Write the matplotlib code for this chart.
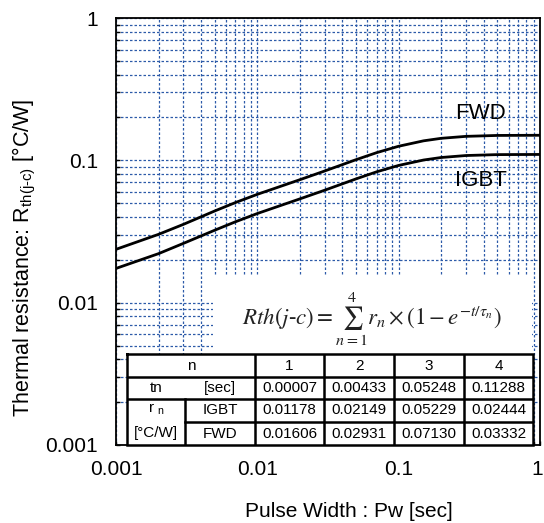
import numpy as np
import matplotlib
matplotlib.use("Agg")
import matplotlib.pyplot as plt
import matplotlib.transforms as mtransforms
from matplotlib.patches import Rectangle

plt.rcParams['font.family'] = ['Liberation Sans', 'DejaVu Sans']
plt.rcParams['mathtext.fontset'] = 'custom'
plt.rcParams['mathtext.rm'] = 'Liberation Sans'
plt.rcParams['mathtext.it'] = 'Liberation Sans:italic'

# Transient thermal impedance
pulse_width = [0.001, 0.002, 0.003, 0.005, 0.007, 0.01, 0.02, 0.03, 0.05,
               0.07, 0.1, 0.15, 0.2, 0.3, 0.5, 1.0]
rth_igbt = [0.0174, 0.0221, 0.0261, 0.0323, 0.0370, 0.0423, 0.0536, 0.0617,
            0.0741, 0.0831, 0.0921, 0.1005, 0.1047, 0.1081, 0.1097, 0.1100]
rth_fwd = [0.0237, 0.0302, 0.0355, 0.0441, 0.0505, 0.0577, 0.0731, 0.0842,
           0.1011, 0.1133, 0.1256, 0.1371, 0.1428, 0.1474, 0.1496, 0.1500]

# table contents
n_labels = ["1", "2", "3", "4"]
tau_n = ["0.00007", "0.00433", "0.05248", "0.11288"]
r_igbt = ["0.01178", "0.02149", "0.05229", "0.02444"]
r_fwd = ["0.01606", "0.02931", "0.07130", "0.03332"]

W, H = 544, 523
fig = plt.figure(figsize=(W / 100, H / 100), dpi=100)
ax = fig.add_axes([116 / W, 1 - 445 / H, 424 / W, 427 / H])

ax.set_xscale("log")
ax.set_yscale("log")
ax.set_xlim(0.001, 1)
ax.set_ylim(0.001, 1)
ax.set_axisbelow(True)
ax.grid(True, which="both", color="#2c5aa8", lw=0.9, ls=(0, (2, 1.6)))

ax.plot(pulse_width, rth_fwd, color="black", lw=2.0, zorder=3)
ax.plot(pulse_width, rth_igbt, color="black", lw=2.0, zorder=3)

ax.text(0.25, 0.215, "FWD", fontsize=16, va="center", ha="left")
ax.text(0.25, 0.0716, "IGBT", fontsize=16, va="center", ha="left")

ax.set_xticks([0.001, 0.01, 0.1, 1])
ax.xaxis.set_major_formatter(plt.FuncFormatter(lambda v, p: f"{v:g}"))
ax.yaxis.set_major_formatter(plt.FuncFormatter(lambda v, p: f"{v:g}"))
ax.xaxis.set_minor_formatter(plt.NullFormatter())
ax.yaxis.set_minor_formatter(plt.NullFormatter())
ax.tick_params(which="both", direction="in", length=3, width=1, labelsize=15)
ax.tick_params(axis="x", pad=11)
ax.tick_params(axis="y", pad=13)
for s in ax.spines.values():
    s.set_linewidth(1.3)

# nudge the last x tick label so it stays inside the figure
last = ax.get_xticklabels()[-1]
last.set_transform(last.get_transform() +
                   mtransforms.ScaledTranslation(-0.03, 0, fig.dpi_scale_trans))

ax.set_xlabel("Pulse Width : Pw [sec]", fontsize=15)
ax.xaxis.set_label_coords(0.55, -0.133)
ax.set_ylabel(r"Thermal resistance: R$_{\rm th(j\text{-}c)}$ [°C/W]",
              fontsize=15.5)
ax.yaxis.set_label_coords(-0.185, 0.438)

# white box behind formula
ax.add_patch(Rectangle((0.229, 0.21), 0.752, 0.186, transform=ax.transAxes,
                       facecolor="white", edgecolor="none", zorder=1))
ax.text(0.604, 0.297,
        r"$Rth(j\text{-}c) = \sum_{n=1}^{4} r_n \times \left(1 - e^{-t/\tau_n}\right)$",
        transform=ax.transAxes, fontsize=16.5, ha="center", va="center",
        math_fontfamily="stix", color="#222222", zorder=2)

# table in pixel units
tx = fig.add_axes([127 / W, 1 - 445 / H, 406 / W, 91 / H])
tx.set_xlim(0, 406)
tx.set_ylim(91, 0)
tx.axis("off")
tx.add_patch(Rectangle((0, 0), 406, 91, facecolor="white", edgecolor="none"))
cols = [0, 58, 128, 197, 267, 337, 406]
rows = [0, 23, 45, 68, 91]
lw = 1.8
tx.plot([0, 406, 406, 0, 0], [0, 0, 91, 91, 0], color="black", lw=lw,
        solid_joinstyle="miter", clip_on=False)
for c in cols[2:-1]:
    tx.plot([c, c], [0, 91], color="black", lw=lw)
tx.plot([58, 58], [45, 91], color="black", lw=lw)
tx.plot([0, 406], [23, 23], color="black", lw=lw)
tx.plot([0, 406], [45, 45], color="black", lw=lw)
tx.plot([58, 406], [68, 68], color="black", lw=lw)

fs = 11
mid = lambda i: (rows[i] + rows[i + 1]) / 2
cmid = lambda j: (cols[j] + cols[j + 1]) / 2
tx.text(64, mid(0), "n", fontsize=fs, ha="center", va="center")
tx.text(cmid(0), mid(1), "tn", fontsize=fs, ha="center", va="center")
tx.text(cmid(1), mid(1), "[sec]", fontsize=fs, ha="center", va="center")
tx.text(cmid(0), 55, r"r $_{\rm n}$", fontsize=fs, ha="center", va="center")
tx.text(cmid(0), 79, "[°C/W]", fontsize=fs, ha="center", va="center")
tx.text(cmid(1), mid(2), "IGBT", fontsize=fs, ha="center", va="center")
tx.text(cmid(1), mid(3), "FWD", fontsize=fs, ha="center", va="center")
for j in range(4):
    tx.text(cmid(j + 2), mid(0), n_labels[j], fontsize=fs, ha="center", va="center")
    tx.text(cmid(j + 2), mid(1), tau_n[j], fontsize=fs, ha="center", va="center")
    tx.text(cmid(j + 2), mid(2), r_igbt[j], fontsize=fs, ha="center", va="center")
    tx.text(cmid(j + 2), mid(3), r_fwd[j], fontsize=fs, ha="center", va="center")

fig.savefig("out.png", dpi=100)
